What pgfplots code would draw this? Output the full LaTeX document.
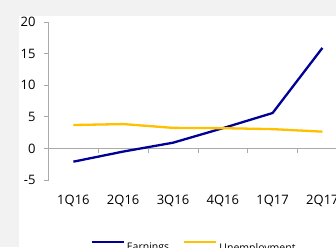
\documentclass[border=0pt]{standalone}
\usepackage{fontspec}
\setmainfont{Open Sans}
\usepackage{pgfplots}
\pgfplotsset{compat=1.18}
\definecolor{navy}{RGB}{0,0,150}
\definecolor{gold}{RGB}{255,192,0}
\definecolor{bg}{RGB}{242,242,242}
\definecolor{axgray}{RGB}{170,170,170}
\begin{document}
\fontsize{13}{15}\selectfont
\begin{tikzpicture}
\path[use as bounding box] (0pt,0pt) rectangle (336pt,247pt);
\clip (0pt,0pt) rectangle (336pt,247pt);
\fill[bg] (0pt,0pt) rectangle (336pt,247pt);
\fill[white] (19pt,0pt) rectangle (336pt,231pt);
\begin{axis}[
  at={(48.5pt,67pt)}, anchor=south west,
  scale only axis, width=298.8pt, height=158pt,
  xmin=-0.5, xmax=5.5, ymin=-5, ymax=20,
  axis y line*=left, axis x line*=bottom,
  x axis line style={draw=none},
  y axis line style={axgray, line width=0.8pt},
  xtick={0,...,5},
  xticklabels={1Q16,2Q16,3Q16,4Q16,1Q17,2Q17},
  ytick={-5,0,5,10,15,20},
  tick align=outside, major tick length=4.5pt,
  x tick style={draw=none},
  y tick style={axgray, line width=0.8pt},
  /pgf/number format/assume math mode=true,
  x tick label style={yshift=-6pt},
  y tick label style={xshift=-4pt},
  legend style={draw=none, fill=none, legend columns=2, at={(0.487,-0.43)}, anchor=center,
    font=\fontsize{10.5}{12}\selectfont,
    /tikz/every odd column/.append style={column sep=0pt},
    /tikz/every even column/.append style={column sep=12pt}},
  legend image code/.code={\draw[#1] (0pt,6pt) -- (32pt,6pt);},
]
\draw[axgray, line width=0.8pt] (axis cs:-0.5,0) -- (axis cs:5.5,0);
\pgfplotsinvokeforeach{0.5,1.5,2.5,3.5,4.5,5.5}{\draw[axgray, line width=0.8pt] (axis cs:#1,0) -- ++(0pt,-4.5pt);}
\addplot[navy, line width=2.3pt] coordinates {(0,-2.1) (1,-0.5) (2,0.9) (3,3.2) (4,5.6) (5,15.9)};
\addlegendentry{Earnings}
\addplot[gold, line width=2.3pt] coordinates {(0,3.7) (1,3.85) (2,3.25) (3,3.2) (4,3.05) (5,2.65)};
\addlegendentry{Unemployment}
\end{axis}
\end{tikzpicture}
\end{document}
